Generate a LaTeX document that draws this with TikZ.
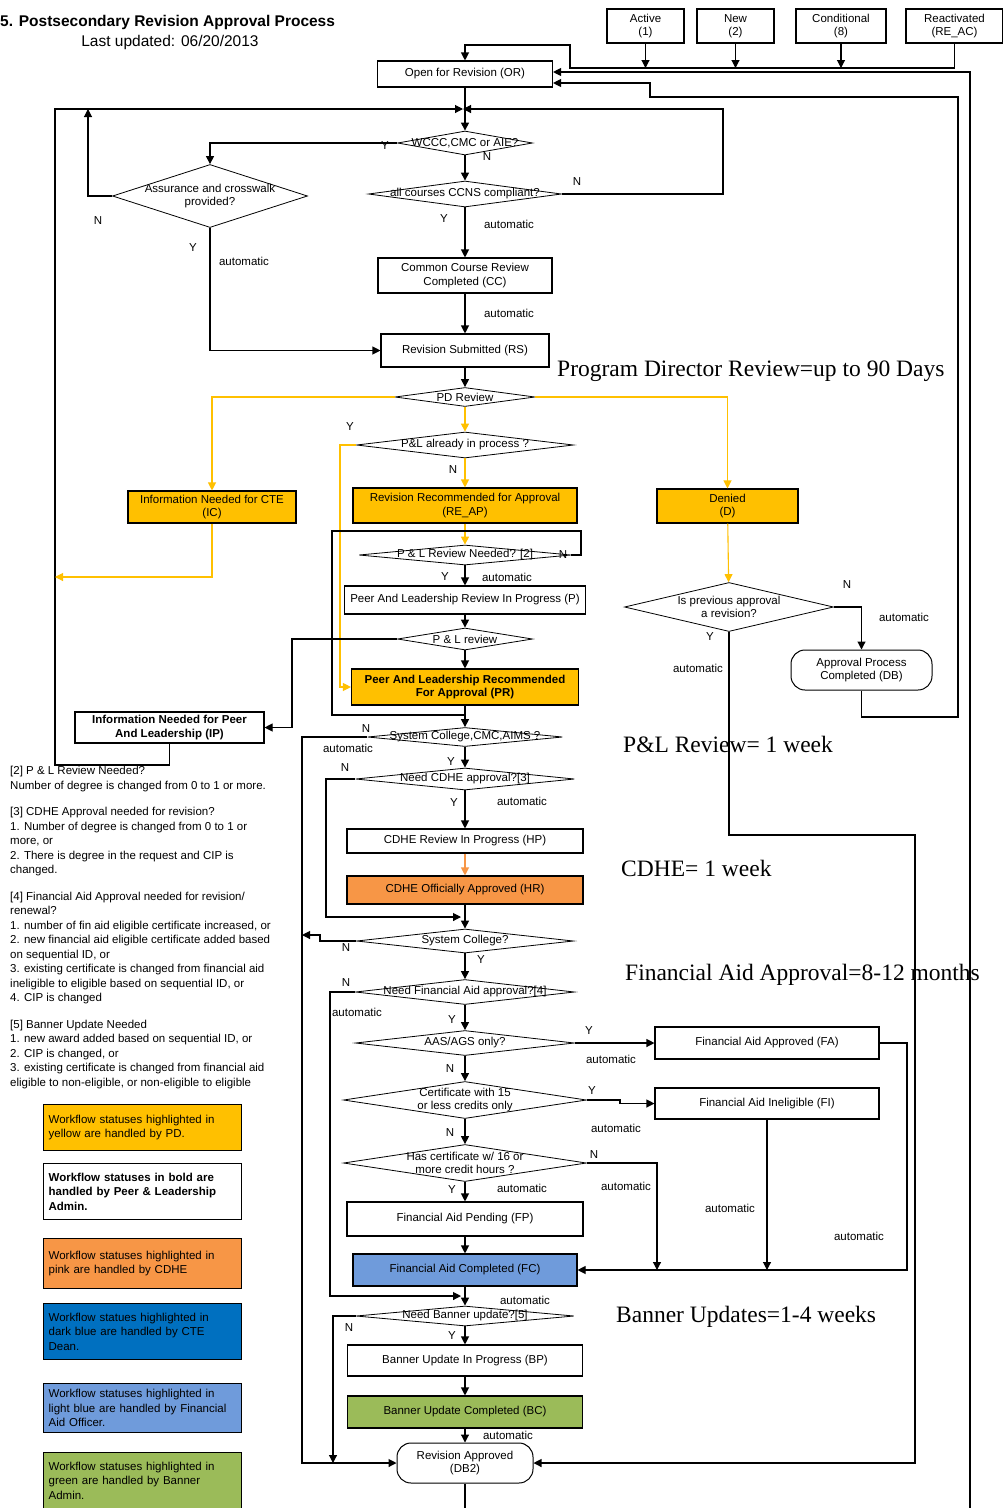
\documentclass[tikz,border=0pt]{standalone}
\usepackage{fontspec}
\setmainfont{Liberation Sans}
\newfontfamily\serifface{Liberation Serif}
\usetikzlibrary{shapes.geometric,arrows.meta,calc}

\definecolor{pdyellow}{HTML}{FFC000}
\definecolor{cdhepink}{HTML}{F79646}
\definecolor{ctedark}{HTML}{0070C0}
\definecolor{falight}{HTML}{6F9BDB}
\definecolor{bannergreen}{HTML}{9BBB59}

\begin{document}
\begin{tikzpicture}[x=1pt,y=-1pt,
    every node/.style={font=\fontsize{11.5}{13.5}\selectfont},
    box/.style={draw,line width=1.1pt,align=center,inner sep=1pt},
    dia/.style={draw,diamond,line width=0.8pt,inner sep=0pt},
    term/.style={draw,line width=1pt,rounded corners=14pt,align=center,inner sep=1pt},
    ln/.style={line width=1.1pt},
    arr/.style={ln,-{Triangle[length=8pt,width=8pt]}},
    yarr/.style={arr,draw=pdyellow},
    parr/.style={arr,draw=cdhepink},
    lbl/.style={inner sep=0pt},
    dur/.style={font=\serifface\fontsize{23.5}{27}\selectfont,anchor=west,inner sep=0pt},
    key/.style={draw,line width=1.3pt,anchor=north west,minimum width=198pt,
      text width=188pt,align=left,inner sep=5pt,font=\fontsize{11.5}{14.5}\selectfont}]
  \path[use as bounding box] (0,0) rectangle (1003,1508);
  \fill[white] (0,0) rectangle (1003,1508);
  \clip (0,0) rectangle (1003,1508);

  % heading
  \node[anchor=west,inner sep=0pt,font=\bfseries\fontsize{15.5}{18}\selectfont] (title) at (0,22) {5. Postsecondary Revision Approval Process};
  \node[inner sep=0pt,font=\fontsize{15.5}{18}\selectfont] (updated) at (170,42) {Last updated: 06/20/2013};

  % entry statuses
  \node[box,minimum width=77pt,minimum height=34pt] (active) at (645.5,26) {Active\\(1)};
  \node[box,minimum width=77pt,minimum height=34pt] (new) at (735.5,26) {New\\(2)};
  \node[box,minimum width=90pt,minimum height=34pt] (cond) at (841,26) {Conditional\\(8)};
  \node[box,minimum width=97pt,minimum height=34pt] (react) at (954.5,26) {Reactivated\\(RE\_AC)};

  \node[box,minimum width=175pt,minimum height=26pt] (or) at (465,74) {Open for Revision (OR)};

  % first checks
  \node[dia,minimum width=135pt,minimum height=24pt,label={center:{WCCC,CMC or AIE?}}] (wccc) at (465,143) {};
  \node[dia,minimum width=193pt,minimum height=26pt,label={center:{all courses CCNS compliant?}}] (ccns) at (465,194) {};
  \node[dia,minimum width=195pt,minimum height=63pt,label={[align=center]center:{Assurance and crosswalk\\provided?}}] (assur) at (210,196) {};
  \node[box,minimum width=174pt,minimum height=35pt] (cc) at (465,275.5) {Common Course Review\\Completed (CC)};
  \node[box,minimum width=168pt,minimum height=33pt] (rs) at (465,350.5) {Revision Submitted (RS)};

  % program director review
  \node[dia,minimum width=140pt,minimum height=19pt,label={center:{PD Review}}] (pd) at (465,397) {};
  \node[dia,minimum width=217pt,minimum height=26pt,label={center:{P\&L already in process ?}}] (plproc) at (465,445) {};
  \node[box,fill=pdyellow,minimum width=168pt,minimum height=32pt] (ic) at (212,507) {Information Needed for CTE\\(IC)};
  \node[box,fill=pdyellow,minimum width=224pt,minimum height=35pt] (reap) at (465,505.5) {Revision Recommended for Approval\\(RE\_AP)};
  \node[box,fill=pdyellow,minimum width=141pt,minimum height=34pt] (denied) at (727.5,506) {Denied\\(D)};
  \node[dia,minimum width=209pt,minimum height=49pt,label={[align=center]center:{Is previous approval\\a revision?}}] (prev) at (729,607) {};
  \node[term,minimum width=141pt,minimum height=40pt] (db) at (861.5,670) {Approval Process\\Completed (DB)};

  % peer and leadership
  \node[dia,minimum width=212pt,minimum height=20pt,label={center:{P \& L Review Needed? [2]}}] (plneed) at (465,555) {};
  \node[box,minimum width=241pt,minimum height=28pt] (p) at (465,600) {Peer And Leadership Review In Progress (P)};
  \node[dia,minimum width=135pt,minimum height=22pt,label={center:{P \& L review}}] (plrev) at (465,639) {};
  \node[box,fill=pdyellow,minimum width=227pt,minimum height=36pt,font=\bfseries\fontsize{11.5}{13.5}\selectfont] (pr) at (465,687) {Peer And Leadership Recommended\\For Approval (PR)};
  \node[box,minimum width=189pt,minimum height=31pt,font=\bfseries\fontsize{11.5}{13.5}\selectfont] (ip) at (169.5,727.5) {Information Needed for Peer\\And Leadership (IP)};

  % CDHE
  \node[dia,minimum width=195pt,minimum height=19pt,label={center:{System College,CMC,AIMS ?}}] (sys1) at (465,737) {};
  \node[dia,minimum width=219pt,minimum height=22pt,label={center:{Need CDHE approval?[3]}}] (cdhe) at (465,779) {};
  \node[box,minimum width=236pt,minimum height=24pt] (hp) at (465,841) {CDHE Review In Progress (HP)};
  \node[box,fill=cdhepink,minimum width=236pt,minimum height=28pt] (hr) at (465,890) {CDHE Officially Approved (HR)};

  % financial aid
  \node[dia,minimum width=217pt,minimum height=24pt,label={center:{System College?}}] (sys2) at (465,941) {};
  \node[dia,minimum width=219pt,minimum height=25pt,label={center:{Need Financial Aid approval?[4]}}] (finaid) at (465,992) {};
  \node[dia,minimum width=219pt,minimum height=25pt,label={center:{AAS/AGS only?}}] (aas) at (465,1043) {};
  \node[dia,minimum width=243pt,minimum height=37pt,label={[align=center]center:{Certificate with 15\\or less credits only}}] (cert15) at (465,1100) {};
  \node[dia,minimum width=243pt,minimum height=37pt,label={[align=center]center:{Has certificate w/ 16 or\\more credit hours ?}}] (cert16) at (465,1163) {};
  \node[box,minimum width=224pt,minimum height=32pt] (fa) at (767,1043) {Financial Aid Approved (FA)};
  \node[box,minimum width=224pt,minimum height=31pt] (fi) at (767,1103.5) {Financial Aid Ineligible (FI)};
  \node[box,minimum width=236pt,minimum height=34pt] (fp) at (465,1219) {Financial Aid Pending (FP)};
  \node[box,fill=falight,minimum width=224pt,minimum height=32pt] (fc) at (465,1270) {Financial Aid Completed (FC)};

  % banner
  \node[dia,minimum width=218pt,minimum height=20pt,label={center:{Need Banner update?[5]}}] (banner) at (465,1316) {};
  \node[box,minimum width=235pt,minimum height=31pt] (bp) at (465,1360.5) {Banner Update In Progress (BP)};
  \node[box,fill=bannergreen,minimum width=235pt,minimum height=32pt] (bc) at (465,1412) {Banner Update Completed (BC)};
  \node[term,minimum width=136pt,minimum height=40pt] (db2) at (465,1463) {Revision Approved\\(DB2)};

  % durations
  \node[dur] (tpd) at (557,371) {Program Director Review=up to 90 Days};
  \node[dur] (tpl) at (623,744) {P\&L Review= 1 week};
  \node[dur] (tch) at (621,868) {CDHE= 1 week};
  \node[dur] (tfa) at (625,975) {Financial Aid Approval=8-12 months};
  \node[dur] (tbu) at (616,1317) {Banner Updates=1-4 weeks};

  % junction points
  \coordinate (jl) at (570,68);
  \coordinate (jt) at (570,45);
  \coordinate (jm) at (465,109);
  \coordinate (or1) at (552,72);
  \coordinate (or2) at (552,83);

  % connectors
  \foreach \s in {active,new,cond}
    \draw[arr] (\s.south) -- (\s.south |- jl);
  \draw[arr] (react.south) |- (jl) |- (jt) -| (or);
  \draw[arr] (db2.south) |- (970,1530) |- (or.east |- or1);
  \draw[arr] (db.south) |- (958,717) -- (958,97) -| (650,83) -- (or.east |- or2);
  \draw[arr] (or) -- (wccc);
  \draw[arr,shorten >=2pt] (ip.south) |- (55,765) |- (jm);
  \draw[arr,shorten >=-2pt] (ccns.east) -| (723,109) -- (jm);
  \draw[arr] (wccc.west) -| (assur.north);
  \draw[arr] (wccc) -- (ccns);
  \draw[arr] (assur.west) -| (88,109);
  \draw[arr] (assur.south) |- (rs.west);
  \draw[arr] (ccns) -- (cc);
  \draw[arr] (cc) -- (rs);
  \draw[arr] (rs) -- (pd);

  \draw[yarr] (pd.west) -| (ic.north);
  \draw[yarr] (pd.east) -| (denied.north);
  \draw[yarr] (pd) -- (plproc);
  \draw[yarr] (plproc.west) -- (340,445) |- (pr.west);
  \draw[yarr] (plproc) -- (reap);
  \draw[yarr] (reap) -- (plneed);
  \draw[yarr] (ic.south) |- (55,577);
  \draw[yarr] (denied) -- (prev);

  \draw[arr] (prev.east) -| (db.north);
  \draw[arr] (prev.south) |- (915,835) |- (db2.east);

  \draw[ln] (plneed.east) -| (581,531) -| (332,715) -- (pr.south |- 0,715);
  \draw[arr] (plneed) -- (p);
  \draw[arr] (p) -- (plrev);
  \draw[arr] (plrev) -- (pr);
  \draw[arr] (plrev.west) -- (292,639) |- (ip.east);
  \draw[arr] (pr) -- (sys1);

  \draw[arr] (sys1.west) -- (302,737) |- (db2.west);
  \draw[arr] (sys1) -- (cdhe);
  \draw[arr] (cdhe.west) -- (326,779) |- (461,917);
  \draw[arr] (cdhe) -- (hp);
  \draw[parr] (hp) -- (hr);
  \draw[arr] (hr) -- (sys2);
  \draw[arr] (sys2.west) -- (320,941) -- (320,935) -- (302,935);
  \draw[arr] (sys2) -- (finaid);
  \draw[arr] (finaid.west) -- (330,992) |- (461,1296);
  \draw[arr] (finaid) -- (aas);
  \draw[arr] (aas.east) -- (fa.west);
  \draw[arr] (aas) -- (cert15);
  \draw[arr] (cert15.east) -- (620,1100) |- (fi.west);
  \draw[arr] (cert15) -- (cert16);
  \draw[arr] (cert16.east) -| (657,1270);
  \draw[arr] (cert16) -- (fp);
  \draw[arr] (fp) -- (fc);
  \draw[arr] (fi.south) -- (fi.south |- fc);
  \draw[arr] (fa.east) -| (907,1270) -- (fc.east);
  \draw[arr] (fc) -- (banner);
  \draw[arr] (banner.west) -| (333,1463);
  \draw[arr] (banner) -- (bp);
  \draw[arr] (bp) -- (bc);
  \draw[arr] (bc) -- (db2);

  % branch labels
  \foreach \px/\py/\txt [count=\k] in {385/146/Y, 487/157/N, 577/182/N, 444/219/Y,
      509/224/automatic, 98/221/N, 193/248/Y, 244/261/automatic, 509/313/automatic,
      350/427/Y, 453/470/N, 563/555/N, 445/577/Y, 507/577/automatic, 847/585/N,
      904/617/automatic, 710/637/Y, 698/668/automatic, 366/729/N, 348/748/automatic,
      451/762/Y, 345/768/N, 454/803/Y, 522/801/automatic, 346/948/N, 481/960/Y,
      346/983/N, 357/1012/automatic, 452/1020/Y, 589/1031/Y, 611/1059/automatic,
      450/1069/N, 592/1091/Y, 616/1128/automatic, 450/1133/N, 594/1155/N,
      626/1186/automatic, 452/1190/Y, 522/1188/automatic, 730/1208/automatic,
      859/1236/automatic, 525/1300/automatic, 349/1328/N, 452/1336/Y, 508/1435/automatic}
    \node[lbl] (tag\k) at (\px,\py) {\txt};

  % footnotes
  \node[anchor=north west,inner sep=0pt,align=left,font=\fontsize{11.5}{14.5}\selectfont] (notes) at (10,766) {%
    [2] P \& L Review Needed?\\
    Number of degree is changed from 0 to 1 or more.\\[12pt]
    {[3]} CDHE Approval needed for revision?\\
    1. Number of degree is changed from 0 to 1 or\\
    more, or\\
    2. There is degree in the request and CIP is\\
    changed.\\[12pt]
    {[4]} Financial Aid Approval needed for revision/\\
    renewal?\\
    1. number of fin aid eligible certificate increased, or\\
    2. new financial aid eligible certificate added based\\
    on sequential ID, or\\
    3. existing certificate is changed from financial aid\\
    ineligible to eligible based on sequential ID, or\\
    4. CIP is changed\\[12pt]
    {[5]} Banner Update Needed\\
    1. new award added based on sequential ID, or\\
    2. CIP is changed, or\\
    3. existing certificate is changed from financial aid\\
    eligible to non-eligible, or non-eligible to eligible};

  % legend
  \node[key,fill=pdyellow,minimum height=46pt] (k1) at (43,1104) {Workflow statuses highlighted in\\yellow are handled by PD.};
  \node[key,minimum height=56pt,font=\bfseries\fontsize{11.5}{14.5}\selectfont] (k2) at (43,1163) {Workflow statuses in bold are\\handled by Peer \& Leadership\\Admin.};
  \node[key,fill=cdhepink,minimum height=50pt] (k3) at (43,1238) {Workflow statuses highlighted in\\pink are handled by CDHE};
  \node[key,fill=ctedark,minimum height=56pt] (k4) at (43,1303) {Workflow statues highlighted in\\dark blue are handled by CTE\\Dean.};
  \node[key,fill=falight,minimum height=49pt] (k5) at (43,1383) {Workflow statuses highlighted in\\light blue are handled by Financial\\Aid Officer.};
  \node[key,fill=bannergreen,minimum height=56pt] (k6) at (43,1452) {Workflow statuses highlighted in\\green are handled by Banner\\Admin.};
\end{tikzpicture}
\end{document}
